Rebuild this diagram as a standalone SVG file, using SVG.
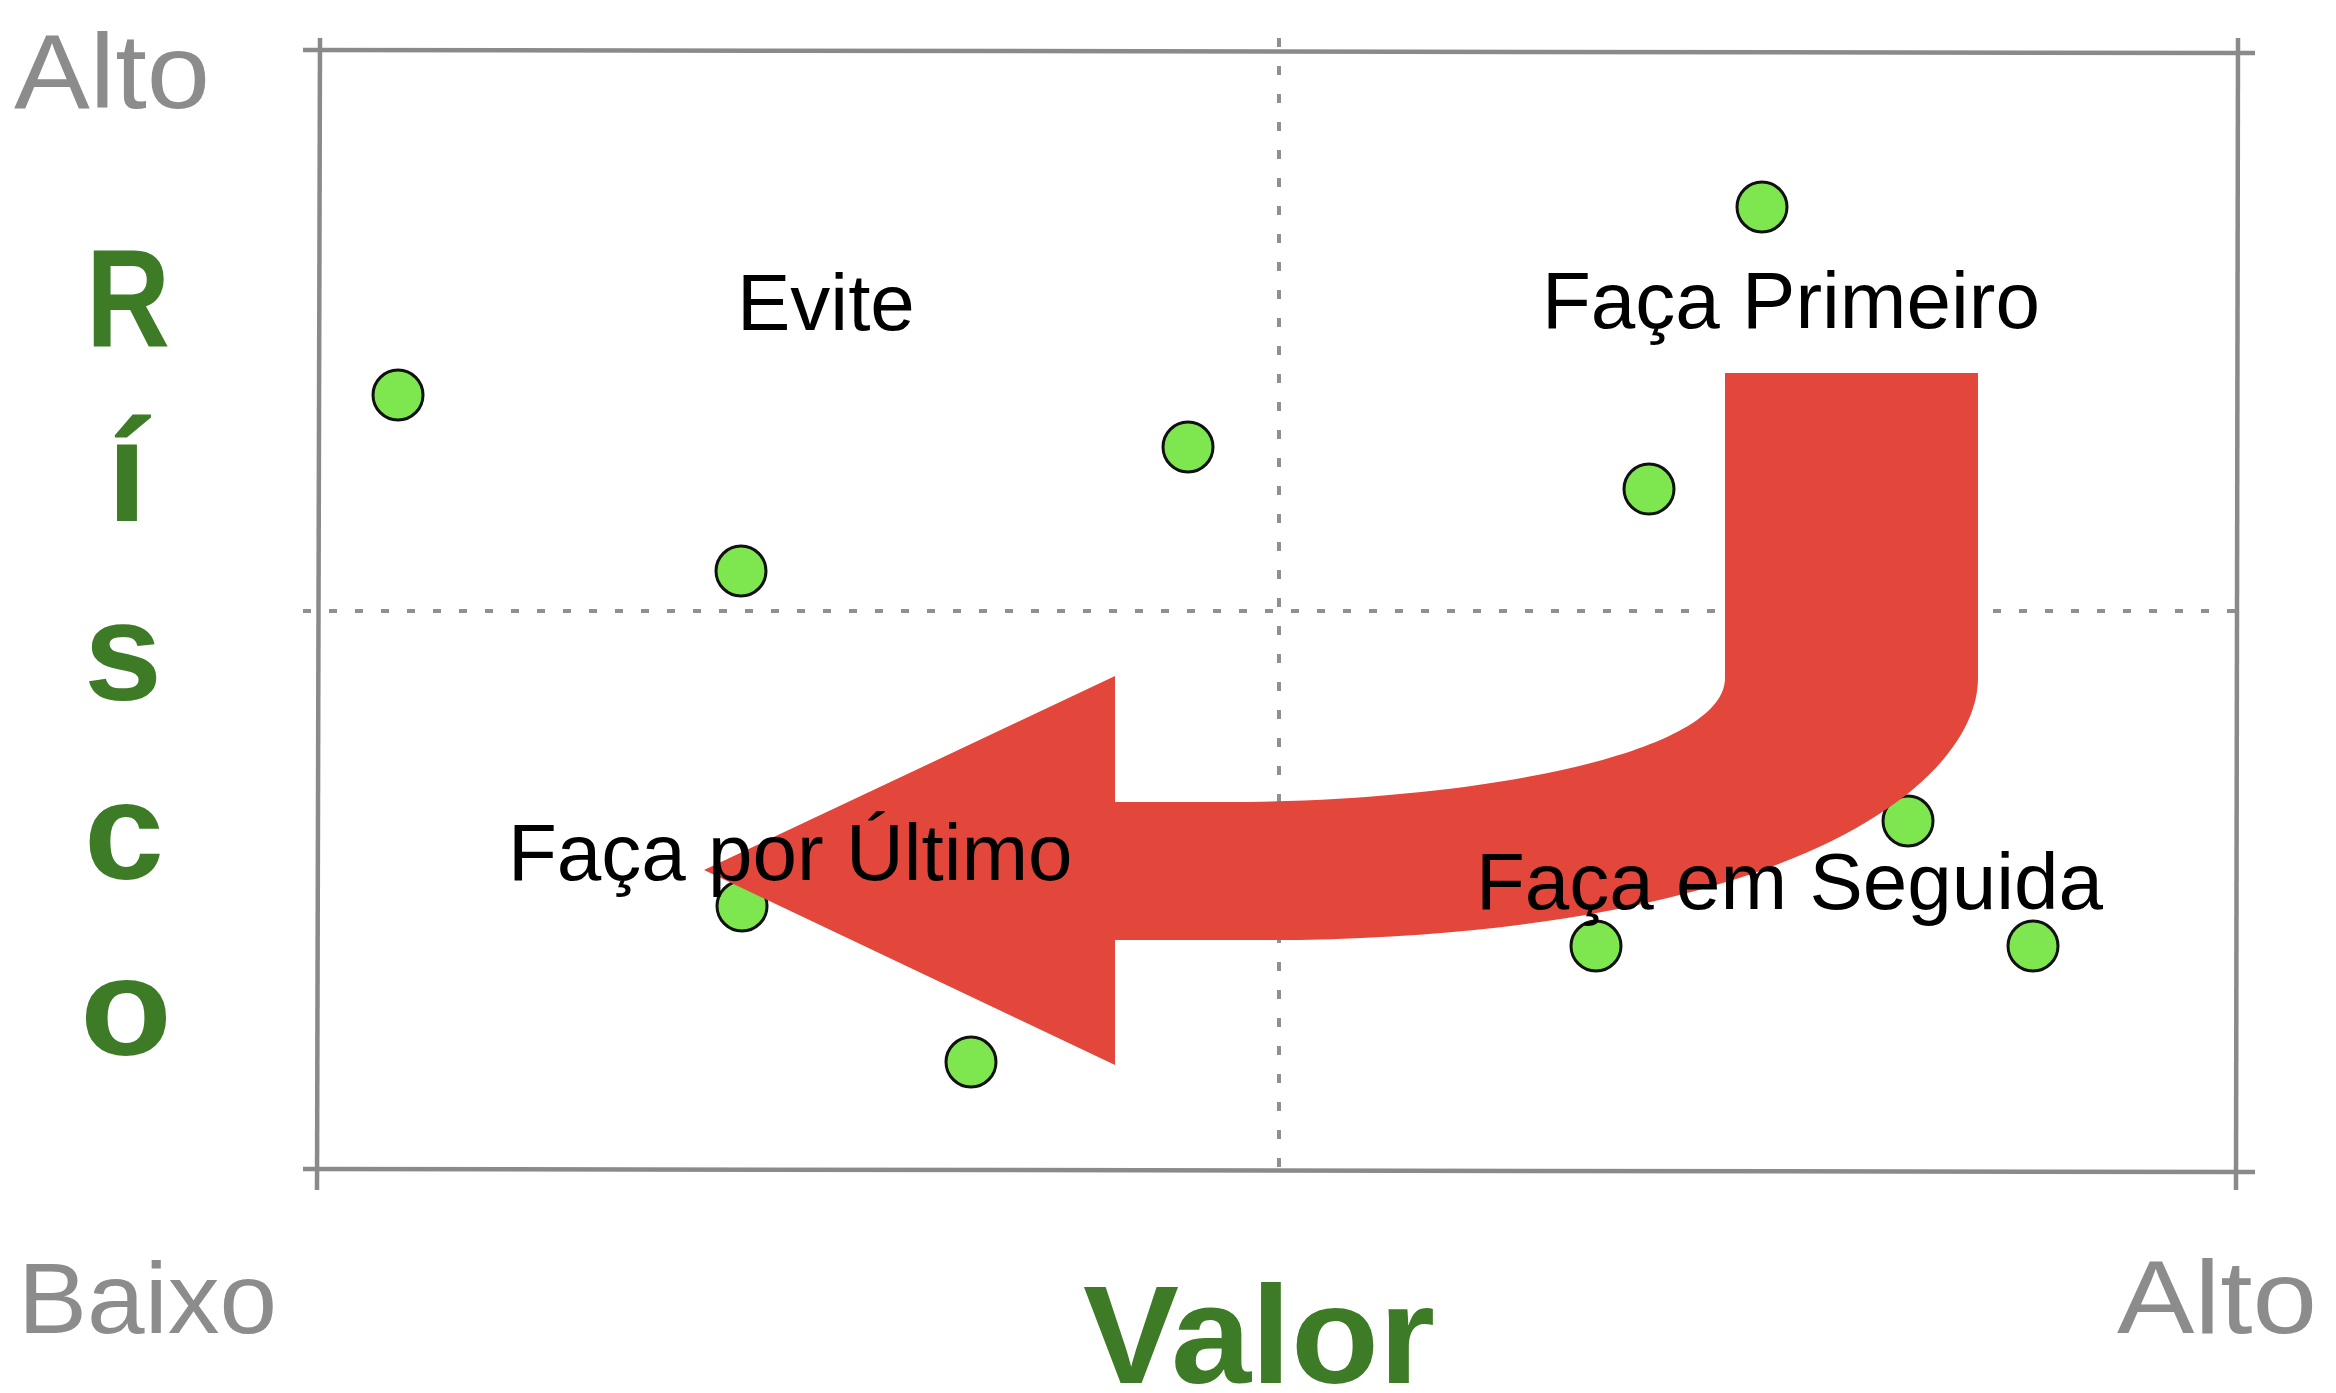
<svg xmlns="http://www.w3.org/2000/svg" width="2336" height="1393" viewBox="0 0 2336 1393">
<style>
.frame{stroke:#8a8a8a;stroke-width:4.5;fill:none}
.dot{stroke:#909090;stroke-width:4;fill:none}
.pt{fill:#7ee64e;stroke:#111;stroke-width:3}
.lbl{font-family:"Liberation Sans",Arial,sans-serif;font-size:80px;fill:#000}
.gray{font-family:"Liberation Sans",Arial,sans-serif;fill:#8c8c8c}
.green{font-family:"Liberation Sans",Arial,sans-serif;font-weight:bold;fill:#3e7b27}
</style>
<rect width="2336" height="1393" fill="#fff"/>
<g id="grid">
<line class="dot" x1="1279" y1="38" x2="1279" y2="1172" stroke-dasharray="9 19"/>
<line class="dot" x1="303" y1="611" x2="2252" y2="611" stroke-dasharray="8 18"/>
</g>
<g id="frame">
<line class="frame" x1="303" y1="50" x2="2255" y2="53"/>
<line class="frame" x1="320" y1="38" x2="317" y2="1190"/>
<line class="frame" x1="303" y1="1169" x2="2255" y2="1172"/>
<line class="frame" x1="2238" y1="38" x2="2236" y2="1190"/>
</g>
<g id="points">
<circle class="pt" cx="398" cy="395" r="25"/>
<circle class="pt" cx="741" cy="571" r="25"/>
<circle class="pt" cx="1188" cy="447" r="25"/>
<circle class="pt" cx="1762" cy="207" r="25"/>
<circle class="pt" cx="1649" cy="489" r="25"/>
<circle class="pt" cx="742" cy="906" r="25"/>
<circle class="pt" cx="971" cy="1062" r="25"/>
<circle class="pt" cx="1908" cy="821" r="25"/>
<circle class="pt" cx="1596" cy="946" r="25"/>
<circle class="pt" cx="2033" cy="946" r="25"/>
</g>
<g id="connectors">
<path id="arrow" fill="#e3473c" d="M1725,373 L1978,373 L1978,678 C1978,780 1800,930 1300,940 L1115,940 L1115,1065 L704,870 L1115,676 L1115,802 L1250,802 C1500,798 1725,750 1725,678 Z"/>
</g>
<g id="quadrant-labels">
<text class="lbl" x="737" y="330">Evite</text>
<text class="lbl" x="1542" y="328">Faça Primeiro</text>
<text class="lbl" x="508" y="880">Faça por Último</text>
<text class="lbl" x="1476" y="909">Faça em Seguida</text>
</g>
<g id="axis-labels">
<text class="gray" x="14" y="108" font-size="105" textLength="196" lengthAdjust="spacingAndGlyphs">Alto</text>
<text class="gray" x="18" y="1333" font-size="100" textLength="259" lengthAdjust="spacingAndGlyphs">Baixo</text>
<text class="gray" x="2117" y="1333" font-size="103" textLength="200" lengthAdjust="spacingAndGlyphs">Alto</text>
<text class="green" x="1083" y="1383" font-size="140" textLength="352" lengthAdjust="spacingAndGlyphs">Valor</text>
<text class="green" x="86" y="346" font-size="140" textLength="84" lengthAdjust="spacingAndGlyphs">R</text>
<text class="green" x="127" y="521" font-size="145" text-anchor="middle">í</text>
<text class="green" x="84" y="700" font-size="140" textLength="78" lengthAdjust="spacingAndGlyphs">s</text>
<text class="green" x="84" y="879" font-size="140" textLength="80" lengthAdjust="spacingAndGlyphs">c</text>
<text class="green" x="80" y="1055" font-size="140" textLength="92" lengthAdjust="spacingAndGlyphs">o</text>
</g>
</svg>
